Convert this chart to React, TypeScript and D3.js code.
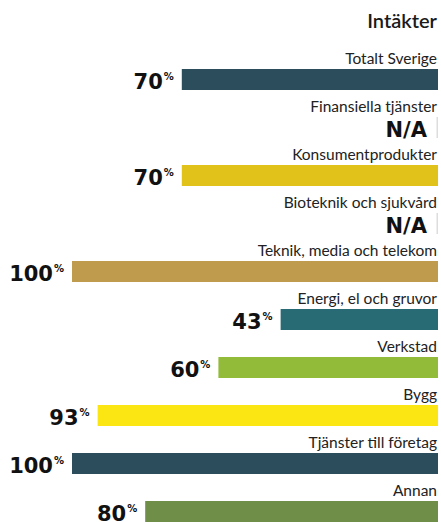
import { useRef, useEffect } from 'react';
import * as d3 from 'd3';

// Chart data
const title = "Intäkter";
const categories = [
  "Totalt Sverige",
  "Finansiella tjänster",
  "Konsumentprodukter",
  "Bioteknik och sjukvård",
  "Teknik, media och telekom",
  "Energi, el och gruvor",
  "Verkstad",
  "Bygg",
  "Tjänster till företag",
  "Annan",
];
const values: (number | null)[] = [70, null, 70, null, 100, 43, 60, 93, 100, 80];
const barColors = [
  "#2b4d5c", "#dddddd", "#e0c21b", "#dddddd", "#bf9b4e",
  "#286b74", "#93bb3a", "#fbe613", "#2b4d5c", "#6f8e48",
];

export default function App() {
  const svgRef = useRef<SVGSVGElement>(null);

  useEffect(() => {
    const width = 441;
    const height = 522;
    const right = 438;
    const barH = 21;

    const svg = d3.select(svgRef.current)
      .attr("width", width)
      .attr("height", height)
      .attr("viewBox", [0, 0, width, height].join(" "));
    svg.selectAll("*").remove();

    const x = d3.scaleLinear().domain([0, 100]).range([0, 366]);
    const y = d3.scaleBand<string>().domain(categories).range([45, 525]);

    // title
    svg.append("text")
      .attr("x", right - 1)
      .attr("y", 28)
      .attr("text-anchor", "end")
      .attr("font-family", "Lato, sans-serif")
      .attr("font-size", 20)
      .attr("font-weight", 600)
      .attr("fill", "#1a1a1a")
      .text(title);

    const rows = svg.selectAll("g.row")
      .data(categories)
      .join("g")
      .attr("class", "row")
      .attr("transform", d => `translate(0,${y(d)})`);

    // category labels
    rows.append("text")
      .attr("x", right - 1)
      .attr("y", 19)
      .attr("text-anchor", "end")
      .attr("font-family", "Lato, sans-serif")
      .attr("font-size", 15.5)
      .attr("fill", "#222")
      .text(d => d);

    // bars (N/A rows get a thin grey stub)
    rows.append("rect")
      .attr("x", (d, i) => values[i] == null ? right - 1.5 : right - x(values[i] as number))
      .attr("y", 24)
      .attr("width", (d, i) => values[i] == null ? 1.5 : x(values[i] as number))
      .attr("height", barH)
      .attr("fill", (d, i) => barColors[i]);

    // value labels
    const vt = rows.append("text")
      .attr("x", (d, i) => values[i] == null ? right - 11 : right - x(values[i] as number) - 8)
      .attr("y", 43.5)
      .attr("text-anchor", "end")
      .attr("font-family", "'DejaVu Sans', sans-serif")
      .attr("font-weight", "bold")
      .attr("font-size", 21)
      .attr("fill", "#111");

    vt.append("tspan")
      .text((d, i) => values[i] == null ? "N/A" : String(values[i]));

    vt.filter((d, i) => values[i] != null)
      .append("tspan")
      .attr("dy", -9)
      .attr("dx", 1)
      .attr("font-size", 10)
      .text("%");
  }, []);

  return <svg ref={svgRef} style={{ position: "absolute", left: 0, top: 0 }} />;
}
